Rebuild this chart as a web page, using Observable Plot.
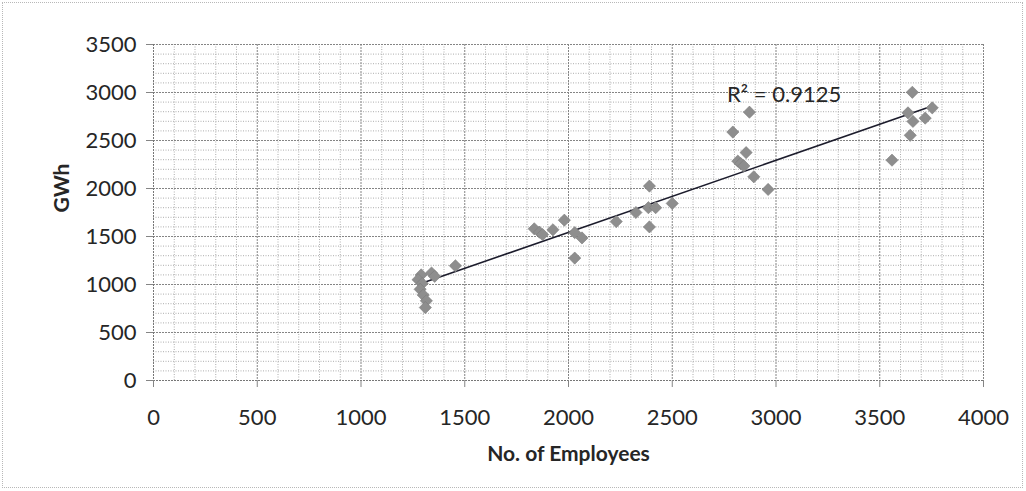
<!DOCTYPE html>
<html><head><meta charset="utf-8">
<script src="https://cdn.jsdelivr.net/npm/d3@7"></script>
<script src="https://cdn.jsdelivr.net/npm/@observablehq/plot@0.6"></script>
<style>
body{margin:0;background:#fff;}
#wrap{position:relative;width:1026px;height:491px;overflow:hidden;}
#border{position:absolute;left:2px;top:2px;width:1019px;height:484px;border:1px dotted #b8b8b8;pointer-events:none;}
svg{display:block;}
</style></head><body><div id="wrap"><div id="border"></div></div>
<script>
// Data
const employees = [1290,1340,1355,1275,1295,1285,1300,1315,1310,1455,
  1835,1860,1875,1925,1980,2030,2065,2030,2230,2325,2390,2385,2420,2390,2500,
  2792,2872,2856,2816,2830,2845,2893,2962,
  3559,3657,3636,3660,3719,3753,3647];
const gwh = [1100,1120,1085,1050,1010,950,890,830,760,1195,
  1580,1545,1520,1570,1670,1540,1485,1275,1655,1750,2025,1800,1800,1600,1845,
  2588,2795,2374,2285,2260,2235,2122,1990,
  2295,3002,2788,2699,2733,2840,2554];
const xTicks = [0,500,1000,1500,2000,2500,3000,3500,4000];
const yTicks = [0,500,1000,1500,2000,2500,3000,3500];
const xMinor = d3.range(0, 4001, 100).filter(v => v % 500 !== 0);
const yMinor = d3.range(0, 3501, 100).filter(v => v % 500 !== 0);
const rLabel = "R² = 0.9125";
const rLabelAt = {x: 2764, y: 2970};
const xTitle = "No. of Employees";
const yTitle = "GWh";

const data = employees.map((x, i) => ({x, y: gwh[i]}));
const textColor = "#262626";

const plot = Plot.plot({
  width: 1026, height: 491,
  marginLeft: 153, marginRight: 43, marginTop: 44, marginBottom: 111,
  x: {domain: [0, 4000]},
  y: {domain: [0, 3500]},
  style: {fontFamily: "Lato, 'Open Sans', sans-serif", background: "white", color: textColor},
  marks: [
    Plot.ruleX(xMinor, {stroke: "#adadad", strokeDasharray: "1,1.5"}),
    Plot.ruleY(yMinor, {stroke: "#adadad", strokeDasharray: "1,1.5"}),
    Plot.ruleX(xTicks.slice(1), {stroke: "#858585", strokeDasharray: "2,1"}),
    Plot.ruleY(yTicks.slice(1), {stroke: "#858585", strokeDasharray: "2,1"}),
    Plot.ruleX([0], {stroke: "#777", strokeDasharray: "2,1"}),
    Plot.ruleY([0], {stroke: "#777", strokeDasharray: "2,1"}),
    Plot.axisX({ticks: xTicks, tickSize: 7, tickPadding: 22, fontSize: 22, label: null,
      stroke: "#858585", fill: textColor, tickFormat: d => String(d)}),
    Plot.axisY({ticks: yTicks, tickSize: 7, tickPadding: 10, fontSize: 22, label: null,
      stroke: "#858585", fill: textColor, tickFormat: d => String(d)}),
    Plot.linearRegressionY(data, {x: "x", y: "y", ci: 0, stroke: "#1c1c2c", strokeWidth: 1.6}),
    Plot.dot(data, {x: "x", y: "y", symbol: "diamond2", r: 5.5, fill: "#8e8e8e", stroke: "#7c7c7c", strokeWidth: 0.6}),
    Plot.text([rLabel], {x: () => rLabelAt.x, y: () => rLabelAt.y, text: d => d, textAnchor: "start", fontSize: 22, fill: textColor}),
    Plot.text([xTitle], {frameAnchor: "bottom", dy: 80, text: d => d, fontSize: 21, fontWeight: "bold", fill: textColor}),
    Plot.text([yTitle], {frameAnchor: "left", dx: -91, rotate: -90, text: d => d, fontSize: 21, fontWeight: "bold", fill: textColor})
  ]
});
document.getElementById("wrap").prepend(plot);
</script>
</body></html>
